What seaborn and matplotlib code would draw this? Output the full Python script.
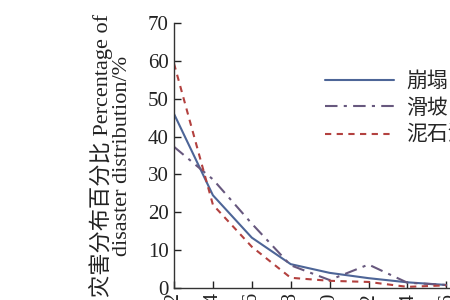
import matplotlib
matplotlib.use("Agg")
import matplotlib.pyplot as plt
import seaborn as sns
import pandas as pd
from matplotlib.lines import Line2D

# ---- data ----
categories = ["0~2", "2~4", "4~6", "6~8", "8~10", "10~12", "12~14", "14~16"]
collapse = [46.0, 24.5, 13.3, 6.3, 4.0, 2.6, 1.5, 0.8]     # 崩塌
landslide = [37.3, 28.7, 17.0, 6.0, 2.1, 6.2, 1.4, 0.8]    # 滑坡
debris = [59.3, 22.0, 10.9, 2.7, 1.9, 1.6, 0.3, 0.7]       # 泥石流
series_names = ["崩塌", "滑坡", "泥石流"]
y_ticks = [0, 10, 20, 30, 40, 50, 60, 70]

sns.set_theme(style="ticks")
plt.rcParams["font.family"] = ["Liberation Serif", "Noto Sans CJK SC", "DejaVu Sans"]
plt.rcParams["axes.unicode_minus"] = False

rows = []
for name, vals in zip(series_names, [collapse, landslide, debris]):
    for i, v in enumerate(vals):
        rows.append({"pos": i, "value": v, "type": name})
df = pd.DataFrame(rows)

palette = {"崩塌": "#4d6597", "滑坡": "#67587e", "泥石流": "#b3413f"}
dashes = {"崩塌": "", "滑坡": (6, 3, 1.5, 3), "泥石流": (3, 2.6)}

fig = plt.figure(figsize=(4.5, 3), dpi=100)
ax = fig.add_axes([174 / 450, 12 / 300, 311.2 / 450, 265 / 300])

sns.lineplot(data=df, x="pos", y="value", hue="type", style="type",
             palette=palette, dashes=dashes, hue_order=series_names,
             style_order=series_names, linewidth=1.5, ax=ax, legend=False)

ax.set_xlim(0, 8)
ax.set_ylim(0, 70)
ax.set_yticks(y_ticks)
ax.set_yticklabels([str(t) for t in y_ticks])
ax.set_xticks(range(len(categories)))
ax.set_xticklabels(categories, rotation=90)
ax.tick_params(axis="both", direction="in", length=5, width=1, colors="#222222",
               labelsize=15, labelcolor="#222222")
ax.tick_params(axis="x", pad=3)
ax.tick_params(axis="y", pad=4)
for s in ["top", "right"]:
    ax.spines[s].set_visible(False)
for s in ["left", "bottom"]:
    ax.spines[s].set_color("#333333")
    ax.spines[s].set_linewidth(1.0)

ax.set_xlabel("")
ax.set_ylabel("灾害分布百分比 Percentage of\ndisaster distribution/%",
              fontsize=16, color="#222222", linespacing=1.0)
ax.yaxis.set_label_coords(-0.135, 0.5)

handles = [
    Line2D([], [], color=palette["崩塌"], lw=1.5, linestyle="-"),
    Line2D([], [], color=palette["滑坡"], lw=1.5, linestyle=(0, dashes["滑坡"])),
    Line2D([], [], color=palette["泥石流"], lw=1.5, linestyle=(0, dashes["泥石流"])),
]
fig.legend(handles, series_names, loc="upper left",
           bbox_to_anchor=(325 / 450, 1 - 72 / 300), frameon=False,
           fontsize=15, handlelength=3.3, handletextpad=0.6,
           labelspacing=0.35, borderpad=0, borderaxespad=0)

fig.savefig("out.png", dpi=100)
